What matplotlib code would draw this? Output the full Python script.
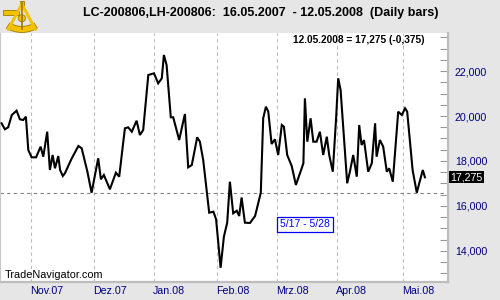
import matplotlib
matplotlib.use("Agg")
import matplotlib.pyplot as plt
import matplotlib.patches as mpatches
import matplotlib.transforms as mtransforms
from matplotlib.ticker import MultipleLocator, FuncFormatter

# ── Data: trading-day index (0 = 01.11.2007) and spread close ─────────────
day_idx = [-9.7, -8.6, -7.5, -6.3, -4.7, -3.6, -2.5, -1.6, -0.8, 0.3,
           1.8, 3.3, 4.2, 5.5, 6.4, 7.3, 8.1, 9.2, 9.8, 10.7,
           11.4, 13.7, 15.9, 17.0, 18.9, 20.3, 22.5, 23.4, 24.4, 26.4,
           28.4, 29.5, 31.4, 32.5, 33.7, 35.3, 36.4, 37.5, 39.2, 41.1,
           42.5, 43.7, 44.4, 45.3, 46.7, 47.5, 49.5, 51.4, 52.5, 53.7,
           55.5, 56.4, 57.5, 59.5, 60.9, 61.8, 63.3, 64.4, 65.5, 66.4,
           67.5, 68.7, 69.5, 70.3, 71.4, 73.1, 74.8, 76.7, 77.5, 78.4,
           79.2, 80.3, 81.4, 82.5, 83.7, 84.4, 85.5, 87.0, 88.4, 90.9,
           91.4, 92.2, 93.3, 94.2, 95.3, 96.4, 97.5, 98.7, 99.5, 100.7,
           101.8, 102.5, 103.3, 104.2, 105.5, 106.4, 107.5, 108.7, 109.5, 110.3,
           111.1, 112.5, 113.7, 114.8, 115.3, 116.4, 117.5, 118.7, 119.5, 120.7,
           122.5, 123.7, 124.8, 125.5, 127.3, 128.7, 129.8, 130.7, 131.4]
close = [19675, 19409, 19498, 20044, 20235, 19853, 19822, 19969, 18489, 18164,
         18164, 18636, 18191, 19302, 17600, 18267, 17676, 18222, 17600, 17333,
         17453, 18120, 18667, 18564, 17524, 16591, 18120, 17187, 17378, 16742,
         17480, 17302, 19453, 19498, 19302, 19791, 19155, 19378, 21822, 21897,
         21453, 21675, 22711, 22266, 19942, 19942, 18933, 20089, 17720, 17822,
         19053, 18858, 18044, 15702, 15747, 15409, 13254, 14636, 15258, 17080,
         15676, 15791, 15556, 16378, 15258, 15245, 15556, 16591, 19898, 20413,
         20191, 18755, 18964, 18267, 19600, 19524, 18267, 17778, 16933, 17898,
         20786, 18858, 19898, 18858, 18858, 19302, 18267, 19080, 18267, 17524,
         19898, 21675, 21155, 19453, 17009, 17524, 18267, 17302, 19600, 18711,
         18933, 17524, 17898, 19675, 18191, 18933, 18636, 17524, 17676, 17080,
         20191, 20044, 20342, 20191, 17600, 16591, 17156, 17600, 17275]

month_idx = [0, 21, 41, 62, 82, 102, 124]
month_labels = ["Nov.07", "Dez.07", "Jan.08", "Feb.08", "Mrz.08", "Apr.08", "Mai.08"]
ref_level = 16575
last_value = 17275

FONT = "Liberation Sans"
NAVY = "#000080"
BG = "#E6E6E6"

fig = plt.figure(figsize=(5, 3), dpi=100, facecolor=BG)
ax = fig.add_axes([0.0, 18 / 300, 448 / 500, 249 / 300])
ax.set_facecolor("white")

ax.plot(day_idx, close, color="black", linewidth=1.5, solid_joinstyle="miter", zorder=3)

ax.set_xlim(-10.23, 139.1)
ax.set_ylim(12622, 23689)

# grid & reference level
for m in month_idx:
    ax.axvline(m, color="#BBBBBB", linewidth=0.8, linestyle=(0, (3, 3)), zorder=1)
ax.axhline(ref_level, color="#808080", linewidth=0.8, linestyle=(0, (3, 3)), zorder=1)

# x axis labels (left-aligned at month start)
ax.set_xticks(month_idx)
ax.set_xticklabels(month_labels, fontfamily=FONT, fontsize=7.7, color=NAVY, ha="left")
ax.tick_params(axis="x", length=0, pad=3)
offset = mtransforms.ScaledTranslation(-1 / 100, 0, fig.dpi_scale_trans)
for lbl in ax.get_xticklabels():
    lbl.set_transform(lbl.get_transform() + offset)

# y axis on the right
ax.yaxis.tick_right()
ax.yaxis.set_major_locator(MultipleLocator(2000))
ax.yaxis.set_minor_locator(MultipleLocator(500))
ax.yaxis.set_major_formatter(FuncFormatter(lambda v, p: f"{int(v):,}"))
ax.tick_params(axis="y", which="both", direction="in", length=6, width=0.8,
               color="#999999", labelsize=7.7, labelcolor=NAVY, pad=5)
for lbl in ax.get_yticklabels():
    lbl.set_fontfamily(FONT)

ax.spines["top"].set_visible(False)
ax.spines["right"].set_color("#BDBDBD")
ax.spines["right"].set_linewidth(1.6)
ax.spines["bottom"].set_color("#BDBDBD")
ax.spines["bottom"].set_linewidth(1.6)
ax.spines["left"].set_color("#C8C8C8")
ax.spines["left"].set_linewidth(0.8)

# last value marker on the right axis
trans = mtransforms.blended_transform_factory(ax.transAxes, ax.transData)
ax.text(1.005, last_value, "17,275", transform=trans, ha="left", va="center",
        fontfamily=FONT, fontsize=7.7, color="white", clip_on=False,
        bbox=dict(boxstyle="square,pad=0.1", facecolor="black", edgecolor="none"))

# header texts
fig.text(0.522, 0.958, "LC-200806,LH-200806:  16.05.2007  - 12.05.2008  (Daily bars)",
         ha="center", va="center", fontfamily=FONT, fontsize=9, fontweight="bold")
fig.text(0.717, 0.867, "12.05.2008 = 17,275 (-0,375)", ha="center", va="center",
         fontfamily=FONT, fontsize=7.3, fontweight="bold")

fig.text(0.61, 0.252, "5/17 - 5/28", ha="center", va="center", fontfamily=FONT,
         fontsize=7.5, color="#0000FF",
         bbox=dict(boxstyle="square,pad=0.25", facecolor="white", edgecolor="#0000FF",
                   linewidth=0.9))

fig.text(0.01, 0.083, "TradeNavigator.com", ha="left", va="center",
         fontfamily=FONT, fontsize=7.8, color="black")

# simple sextant logo (y grows upward here)
lg = fig.add_axes([0.0, 0.885, 0.075, 0.115])
lg.set_xlim(0, 36)
lg.set_ylim(0, 34)
lg.axis("off")
gold, dark = "#F2C200", "#A07800"
lg.add_patch(mpatches.Wedge((21, 30), 28, 238, 302, width=6, facecolor=gold,
                            edgecolor=dark, linewidth=0.6))
lg.plot([21, 8], [30, 5], color=gold, lw=2.2, solid_capstyle="round")
lg.plot([21, 34], [30, 5], color=gold, lw=2.2, solid_capstyle="round")
lg.plot([21, 21], [31, 5], color=dark, lw=1.2)
lg.add_patch(mpatches.Rectangle((3, 19), 15, 5, facecolor=gold, edgecolor=dark, lw=0.6))
lg.add_patch(mpatches.Circle((21, 16), 3.5, facecolor=gold, edgecolor=dark, lw=0.6))
lg.add_patch(mpatches.Rectangle((19, 27), 4, 6, facecolor=gold, edgecolor=dark, lw=0.6))

fig.savefig("out.png", dpi=100, facecolor=BG)
